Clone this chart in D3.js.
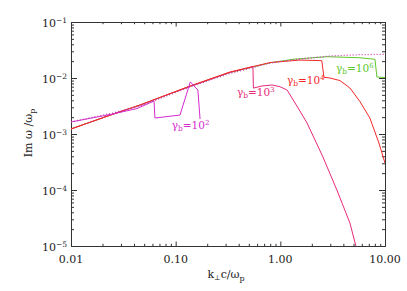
<!DOCTYPE html>
<html>
<head>
<meta charset="UTF-8">
<script src="https://d3js.org/d3.v7.min.js"></script>
<style>
  html, body { margin: 0; padding: 0; background: #fff; }
  svg text { font-family: "DejaVu Serif", serif; fill: #222; }
</style>
</head>
<body>
<div id="chart"></div>
<script>
// data (k c/wp , Im w / wp)
const envK = [0.01, 0.0252, 0.0456, 0.137, 0.33, 0.80, 1.54, 2.98, 5.76, 10];
const envV = [1.64e-3, 2.37e-3, 3.16e-3, 6.9e-3, 1.21e-2, 1.85e-2, 2.18e-2, 2.47e-2, 2.61e-2, 2.65e-2];

const g2K = [0.01, 0.0252, 0.0427, 0.0621, 0.0634, 0.110, 0.138, 0.163, 0.171];
const g2V = [1.64e-3, 2.28e-3, 2.85e-3, 3.88e-3, 1.93e-3, 2.18e-3, 8.5e-3, 6.1e-3, 1.85e-3];

const g3K = [0.01, 0.0252, 0.0456, 0.137, 0.33, 0.547, 0.553, 0.667, 0.834, 0.99, 1.16, 1.44, 1.80, 2.55, 3.47, 4.62, 5.27];
const g3V = [1.23e-3, 2.26e-3, 3.28e-3, 7.1e-3, 1.26e-2, 1.60e-2, 6.6e-3, 7.2e-3, 7.5e-3, 7.0e-3, 6.1e-3, 3.16e-3, 1.57e-3, 3.9e-4, 1.0e-4, 2.58e-5, 1.0e-5];

const g4K = [0.01, 0.0252, 0.0456, 0.137, 0.33, 0.80, 1.54, 2.49, 2.61, 2.98, 3.71, 4.62, 5.76, 7.17, 8.75, 10];
const g4V = [1.23e-3, 2.26e-3, 3.3e-3, 7.2e-3, 1.28e-2, 1.89e-2, 2.09e-2, 2.04e-2, 1.03e-2, 1.0e-2, 9.0e-3, 6.63e-3, 3.8e-3, 1.93e-3, 6.9e-4, 3.03e-4];

const g6K = [0.01, 0.0252, 0.0456, 0.137, 0.33, 0.80, 1.32, 2.79, 5.76, 8.02, 8.37, 10];
const g6V = [1.23e-3, 2.26e-3, 3.28e-3, 7.1e-3, 1.25e-2, 1.87e-2, 2.16e-2, 2.40e-2, 2.30e-2, 2.16e-2, 1.04e-2, 1.02e-2];

const xTicks = [0.01, 0.1, 1, 10];
const xTickLabels = ["0.01", "0.10", "1.00", "10.00"];
const yTicks = [1e-5, 1e-4, 1e-3, 1e-2, 1e-1];
const yTickExp = ["\u22125", "\u22124", "\u22123", "\u22122", "\u22121"];

const W = 407, H = 291;
const L = 71, R = 385, T = 22, B = 246;

const x = d3.scaleLog().domain([0.01, 10]).range([L, R]);
const y = d3.scaleLog().domain([1e-5, 1e-1]).range([B, T]);

const svg = d3.select("#chart").append("svg")
    .attr("width", W).attr("height", H);

svg.append("clipPath").attr("id", "clip")
  .append("rect").attr("x", L).attr("y", T).attr("width", R - L).attr("height", B - T);

// minor tick values
function minors(lo, hi) {
    const out = [];
    for (let d = lo; d < hi; d *= 10)
        for (let m = 2; m <= 9; m++) out.push(d * m);
    return out;
}
const xMinor = minors(0.01, 10);
const yMinor = minors(1e-5, 1e-1);

function drawAxis(axis, tx, ty) {
    const g = svg.append("g").attr("transform", `translate(${tx},${ty})`).call(axis);
    g.select(".domain").attr("stroke", "#333");
    g.selectAll(".tick line").attr("stroke", "#333");
    g.selectAll(".tick text").remove();
    return g;
}
// bottom / top
drawAxis(d3.axisBottom(x).tickValues(xTicks).tickSize(-4.5).tickSizeOuter(0), 0, B);
drawAxis(d3.axisBottom(x).tickValues(xMinor).tickSize(-2.2).tickSizeOuter(0), 0, B);
drawAxis(d3.axisTop(x).tickValues(xTicks).tickSize(-4.5).tickSizeOuter(0), 0, T);
drawAxis(d3.axisTop(x).tickValues(xMinor).tickSize(-2.2).tickSizeOuter(0), 0, T);
// left / right
drawAxis(d3.axisLeft(y).tickValues(yTicks).tickSize(-6).tickSizeOuter(0), L, 0);
drawAxis(d3.axisLeft(y).tickValues(yMinor).tickSize(-3).tickSizeOuter(0), L, 0);
drawAxis(d3.axisRight(y).tickValues(yTicks).tickSize(-6).tickSizeOuter(0), R, 0);
drawAxis(d3.axisRight(y).tickValues(yMinor).tickSize(-3).tickSizeOuter(0), R, 0);

// x tick labels
svg.append("g").selectAll("text").data(xTicks).join("text")
    .attr("x", d => x(d)).attr("y", 262.5)
    .attr("text-anchor", "middle").attr("font-size", 11)
    .text((d, i) => xTickLabels[i]);

// y tick labels 10^n
const yl = svg.append("g").selectAll("text").data(yTicks).join("text")
    .attr("x", 67).attr("y", d => y(d) + 4.5)
    .attr("text-anchor", "end").attr("font-size", 11);
yl.append("tspan").text("10");
yl.append("tspan").attr("dy", -4).attr("font-size", 7.5).text((d, i) => yTickExp[i]);

// axis titles
const xt = svg.append("text").attr("x", 226).attr("y", 278)
    .attr("text-anchor", "middle").attr("font-size", 11);
xt.append("tspan").text("k");
xt.append("tspan").attr("dy", 2).attr("font-size", 7).text("\u22a5");
xt.append("tspan").attr("dy", -2).text("c/\u03c9");
xt.append("tspan").attr("dy", 3).attr("font-size", 8).text("p");

const yt = svg.append("text")
    .attr("transform", "translate(32,133) rotate(-90)")
    .attr("text-anchor", "middle").attr("font-size", 11);
yt.append("tspan").text("Im \u03c9  /\u03c9");
yt.append("tspan").attr("dy", 3).attr("font-size", 8).text("p");

// curves
const line = d3.line().x(d => x(d[0])).y(d => y(d[1]));
const plot = svg.append("g").attr("clip-path", "url(#clip)");
const series = [
    { k: g6K, v: g6V, color: "#5ec82a" },
    { k: g3K, v: g3V, color: "#e8287a" },
    { k: g4K, v: g4V, color: "#f42828" },
    { k: g2K, v: g2V, color: "#d42ad0" }
];
series.forEach(s => {
    plot.append("path")
        .attr("d", line(s.k.map((k, i) => [k, s.v[i]])))
        .attr("fill", "none").attr("stroke", s.color).attr("stroke-width", 1);
});
plot.append("path")
    .attr("d", line(envK.map((k, i) => [k, envV[i]])))
    .attr("fill", "none").attr("stroke", "#c83cb4").attr("stroke-width", 1.3)
    .attr("stroke-dasharray", "1,2");

// gamma_b labels
const labels = [
    { k: 0.0916, v: 1.21e-3, e: "2", color: "#d42ad0" },
    { k: 0.385, v: 4.77e-3, e: "3", color: "#e8287a" },
    { k: 1.156, v: 7.8e-3, e: "4", color: "#f42828" },
    { k: 3.4, v: 1.30e-2, e: "6", color: "#5ec82a" }
];
labels.forEach(l => {
    const t = svg.append("text").attr("x", x(l.k)).attr("y", y(l.v))
        .attr("font-size", 10.5).style("fill", l.color);
    t.append("tspan").text("\u03b3");
    t.append("tspan").attr("dy", 2).attr("font-size", 7.5).text("b");
    t.append("tspan").attr("dy", -2).text("=10");
    t.append("tspan").attr("dy", -4).attr("font-size", 7).text(l.e);
});
</script>
</body>
</html>
